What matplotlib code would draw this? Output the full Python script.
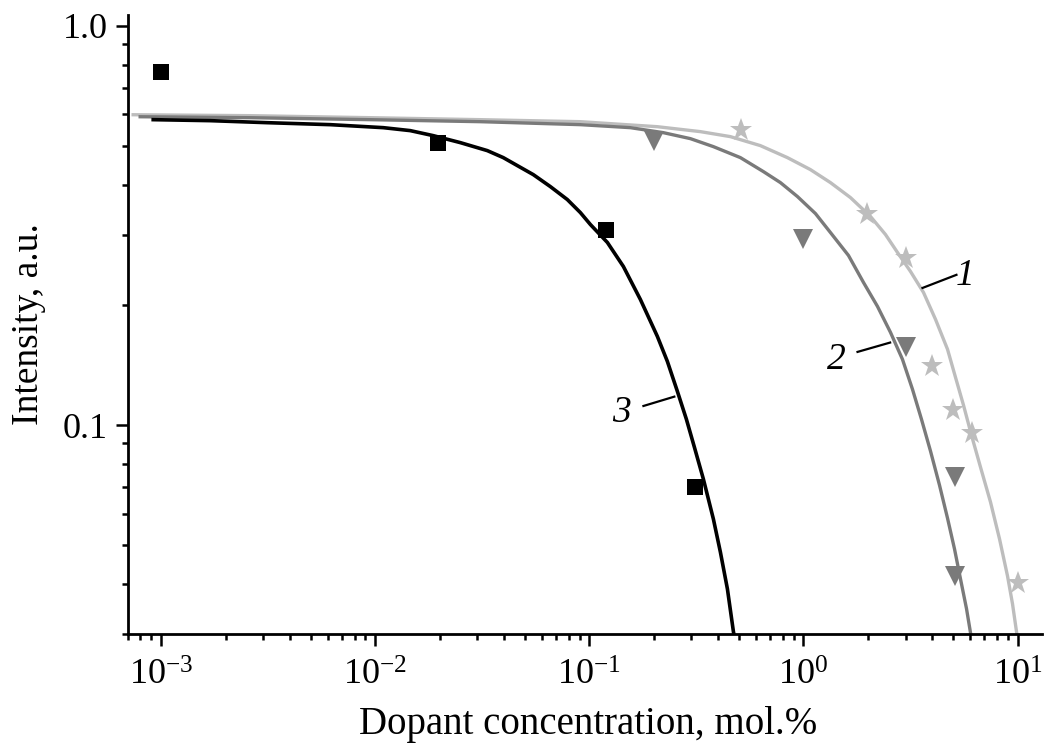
import matplotlib
matplotlib.use("Agg")
import matplotlib.pyplot as plt
from matplotlib.ticker import LogLocator, NullFormatter, FixedLocator, FixedFormatter

plt.rcParams['font.family'] = ['Liberation Serif', 'DejaVu Serif']
plt.rcParams['mathtext.fontset'] = 'custom'
plt.rcParams['mathtext.rm'] = 'Liberation Serif'
plt.rcParams['mathtext.it'] = 'Liberation Serif:italic'

# ---- data: fitted curves ----
curve1_x = [7.40e-4, 2.606e-3, 9.475e-3, 0.03095, 0.0908, 0.2078, 0.3302, 0.4558, 0.6295, 0.8418,
            1.078, 1.337, 1.658, 2.057, 2.416, 2.750, 3.162, 3.637, 4.139, 4.710,
            5.132, 5.594, 6.095, 6.716, 7.478, 8.240, 8.981, 9.475, 9.893, 10.11]
curve1_y = [0.5989, 0.5957, 0.5888, 0.5821, 0.5754, 0.5590, 0.5433, 0.5279, 0.5012, 0.4677,
            0.4365, 0.4050, 0.3715, 0.3331, 0.3003, 0.2707, 0.2427, 0.2150, 0.1841, 0.1549,
            0.1318, 0.1122, 0.0944, 0.0785, 0.0642, 0.0519, 0.0419, 0.0357, 0.0304, 0.02835]

curve2_x = [7.98e-4, 2.606e-3, 9.475e-3, 0.03095, 0.0908, 0.1554, 0.2217, 0.2965, 0.3797, 0.5077,
            0.6502, 0.7807, 0.9376, 1.138, 1.337, 1.623, 1.907, 2.217, 2.550, 2.901,
            3.231, 3.559, 3.923, 4.320, 4.710, 5.077, 5.416, 5.778, 6.095]
curve2_y = [0.5920, 0.5888, 0.5821, 0.5754, 0.5656, 0.5559, 0.5401, 0.5218, 0.4983, 0.4677,
            0.4315, 0.4050, 0.3737, 0.3388, 0.3037, 0.2661, 0.2278, 0.1984, 0.1708, 0.1462,
            0.1230, 0.1035, 0.0861, 0.0708, 0.0585, 0.0490, 0.0412, 0.0347, 0.0292]

curve3_x = [9.18e-4, 1.694e-3, 3.129e-3, 6.163e-3, 0.01090, 0.01457, 0.01866, 0.02495, 0.03337, 0.03963,
            0.04609, 0.05474, 0.06573, 0.07890, 0.0908, 0.1011, 0.1214, 0.1442, 0.1731, 0.2078,
            0.2314, 0.2577, 0.2840, 0.3095, 0.3409, 0.3797, 0.4094, 0.4415, 0.4710, 0.4863]
curve3_y = [0.5821, 0.5788, 0.5721, 0.5656, 0.5559, 0.5465, 0.5309, 0.5100, 0.4870, 0.4677,
            0.4467, 0.4240, 0.3958, 0.3673, 0.3407, 0.3181, 0.2868, 0.2497, 0.2065, 0.1669,
            0.1445, 0.1216, 0.1035, 0.0881, 0.0733, 0.0582, 0.0481, 0.0389, 0.0304, 0.0279]

# ---- data: measured points ----
sq_x = [0.001, 0.0197, 0.12, 0.31]
sq_y = [0.767, 0.51, 0.309, 0.070]

tri_x = [0.2, 1.0, 3.0, 5.1, 5.1]
tri_y = [0.516, 0.293, 0.157, 0.074, 0.042]

star_x = [0.51, 1.99, 3.0, 4.0, 5.0, 6.1, 10.0]
star_y = [0.55, 0.337, 0.2615, 0.1405, 0.109, 0.0955, 0.0403]

# ---- curve labels ----
curve_labels = ['1', '2', '3']
label_pos_x = [5.715, 1.427, 0.1418]
label_pos_y = [0.2239, 0.1380, 0.1017]
leader_start_x = [3.559, 2.57, 0.2523]
leader_start_y = [0.2201, 0.1613, 0.1181]
leader_end_x = [5.243, 1.769, 0.1769]
leader_end_y = [0.2385, 0.1523, 0.1115]

xtick_vals = [1e-3, 1e-2, 1e-1, 1e0, 1e1]
xtick_labels = [r'$\mathregular{10^{-3}}$', r'$\mathregular{10^{-2}}$', r'$\mathregular{10^{-1}}$',
                r'$\mathregular{10^{0}}$', r'$\mathregular{10^{1}}$']
ytick_vals = [0.1, 1.0]
ytick_labels = ['0.1', '1.0']

LIGHT = '#BDBDBD'
DARK = '#7A7A7A'

fig = plt.figure(figsize=(10.44, 7.45), dpi=100)
ax = fig.add_axes([0.1226, 0.149, 0.8754, 0.831])

ax.plot(curve1_x, curve1_y, color=LIGHT, lw=2.4, zorder=2)
ax.plot(curve2_x, curve2_y, color=DARK, lw=2.4, zorder=2)
ax.plot(curve3_x, curve3_y, color='black', lw=2.6, zorder=3)

ax.plot(sq_x, sq_y, 's', color='black', ms=11.5, mew=0, zorder=4)
ax.plot(tri_x, tri_y, 'v', color=DARK, ms=15, mew=0, zorder=4)
ax.plot(star_x, star_y, '*', color=LIGHT, ms=17, mew=0, zorder=4)

for t, tx, ty, sx, sy, ex, ey in zip(curve_labels, label_pos_x, label_pos_y,
                                     leader_start_x, leader_start_y, leader_end_x, leader_end_y):
    ax.plot([sx, ex], [sy, ey], color='black', lw=1.6, solid_capstyle='butt', zorder=5)
    ax.text(tx, ty, t, fontsize=27, style='italic', ha='center', va='baseline', zorder=5)

ax.set_xscale('log')
ax.set_yscale('log')
ax.set_xlim(7e-4, 13)
ax.set_ylim(0.03, 1.065)

ax.xaxis.set_major_locator(FixedLocator(xtick_vals))
ax.xaxis.set_major_formatter(FixedFormatter(xtick_labels))
ax.xaxis.set_minor_locator(LogLocator(base=10, subs=range(2, 10), numticks=20))
ax.xaxis.set_minor_formatter(NullFormatter())
ax.yaxis.set_major_locator(FixedLocator(ytick_vals))
ax.yaxis.set_major_formatter(FixedFormatter(ytick_labels))
ax.yaxis.set_minor_locator(LogLocator(base=10, subs=range(2, 10), numticks=20))
ax.yaxis.set_minor_formatter(NullFormatter())

for s in ['top', 'right']:
    ax.spines[s].set_visible(False)
for s in ['left', 'bottom']:
    ax.spines[s].set_linewidth(2.0)

ax.tick_params(which='major', direction='out', length=8.5, width=1.8, labelsize=26, pad=6)
ax.tick_params(which='minor', direction='out', length=4.5, width=1.8)
ax.tick_params(axis='x', which='major', pad=10)

ax.set_xlabel('Dopant concentration, mol.%', fontsize=28)
ax.xaxis.set_label_coords(0.504, -0.162)
ax.xaxis.label.set_va('baseline')
ax.set_ylabel('Intensity, a.u.', fontsize=27, labelpad=12)

fig.savefig('out.png', dpi=100)
